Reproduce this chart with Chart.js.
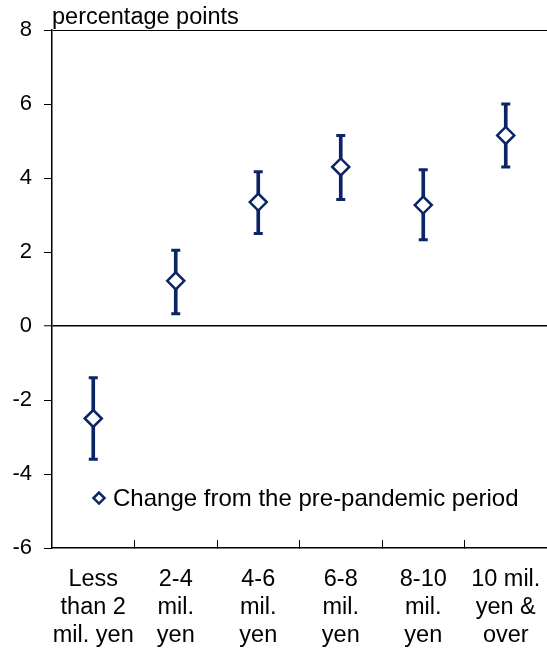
<!DOCTYPE html>
<html>
<head>
<meta charset="utf-8">
<script src="https://cdn.jsdelivr.net/npm/chart.js@4/dist/chart.umd.min.js"></script>
<style>
  html, body { margin: 0; padding: 0; background: #fff; }
  #wrap { width: 547px; height: 649px; }
</style>
</head>
<body>
<div id="wrap"><canvas id="c" width="547" height="649"></canvas></div>
<script>
// values
var categories = [
  ['Less', 'than 2', 'mil. yen'],
  ['2-4', 'mil.', 'yen'],
  ['4-6', 'mil.', 'yen'],
  ['6-8', 'mil.', 'yen'],
  ['8-10', 'mil.', 'yen'],
  ['10 mil.', 'yen &', 'over']
];
var change = [-2.5, 1.22, 3.35, 4.3, 3.27, 5.15];
var lower  = [-3.6, 0.33, 2.5, 3.42, 2.33, 4.3];
var upper  = [-1.4, 2.05, 4.17, 5.15, 4.22, 6.0];
var yTicks = [-6, -4, -2, 0, 2, 4, 6, 8];

var seriesName = 'Change from the pre-pandemic period';
var unitLabel = 'percentage points';
var navy = '#0b2466';
var font = 'Liberation Sans';

var ranges = lower.map(function (lo, i) { return [lo, upper[i]]; });

// title above the axis + legend inside the plot area
var extras = {
  id: 'extras',
  afterDraw: function (chart) {
    var ctx = chart.ctx, a = chart.chartArea;
    ctx.save();
    ctx.fillStyle = '#000';
    ctx.font = '23.5px "' + font + '"';
    ctx.textAlign = 'left';
    ctx.textBaseline = 'alphabetic';
    ctx.fillText(unitLabel, a.left, a.top - 6);

    // legend
    var lx = a.left + 47, ly = chart.scales.y.getPixelForValue(-4.65);
    ctx.beginPath();
    ctx.moveTo(lx, ly - 5.5);
    ctx.lineTo(lx + 5.5, ly);
    ctx.lineTo(lx, ly + 5.5);
    ctx.lineTo(lx - 5.5, ly);
    ctx.closePath();
    ctx.fillStyle = '#fff';
    ctx.fill();
    ctx.lineWidth = 2.5;
    ctx.strokeStyle = navy;
    ctx.stroke();
    ctx.fillStyle = '#000';
    ctx.font = '24px "' + font + '"';
    ctx.textBaseline = 'middle';
    ctx.fillText(seriesName, lx + 14, ly + 1);
    ctx.restore();
  }
};

new Chart(document.getElementById('c'), {
  data: {
    labels: categories,
    datasets: [
      {
        type: 'line',
        label: seriesName,
        data: change,
        showLine: false,
        pointStyle: 'rectRot',
        pointRadius: 8.5,
        pointHoverRadius: 8.5,
        pointBackgroundColor: '#fff',
        pointBorderColor: navy,
        pointBorderWidth: 2.5,
        order: 0
      },
      {
        type: 'line',
        label: 'low',
        data: lower,
        showLine: false,
        pointStyle: 'line',
        pointRadius: 4.5,
        pointBorderColor: navy,
        pointBorderWidth: 3,
        order: 1
      },
      {
        type: 'line',
        label: 'high',
        data: upper,
        showLine: false,
        pointStyle: 'line',
        pointRadius: 4.5,
        pointBorderColor: navy,
        pointBorderWidth: 3,
        order: 1
      },
      {
        type: 'bar',
        label: 'range',
        data: ranges,
        barThickness: 3,
        backgroundColor: navy,
        borderWidth: 0,
        order: 2
      }
    ]
  },
  options: {
    responsive: false,
    animation: false,
    layout: { autoPadding: false, padding: { top: 30, right: 0, left: 0, bottom: 0 } },
    plugins: {
      legend: { display: false },
      tooltip: { enabled: false }
    },
    scales: {
      x: {
        type: 'category',
        offset: true,
        afterFit: function (s) {
          s.height = 101;
          s.paddingLeft = 0;
          s.paddingRight = 0;
        },
        border: { display: true, color: '#000', width: 1.5 },
        grid: {
          offset: true,
          drawOnChartArea: false,
          tickLength: -8,
          lineWidth: 1,
          color: function (c) {
            return (c.index > 0 && c.index < categories.length) ? '#000' : 'rgba(0,0,0,0)';
          }
        },
        ticks: {
          color: '#000',
          padding: 25,
          maxRotation: 0,
          autoSkip: false,
          font: { family: font, size: 23.5, lineHeight: 1.2 }
        }
      },
      y: {
        type: 'linear',
        min: yTicks[0],
        max: yTicks[yTicks.length - 1],
        afterFit: function (s) { s.width = 52; },
        afterBuildTicks: function (s) {
          s.ticks = yTicks.map(function (v) { return { value: v }; });
        },
        border: { display: true, color: '#000', width: 1.5 },
        grid: {
          tickLength: 8,
          tickColor: '#000',
          tickWidth: 1,
          color: function (c) {
            var v = c.tick ? c.tick.value : null;
            return (v === 0 || v === 8) ? '#000' : 'rgba(0,0,0,0)';
          },
          lineWidth: function (c) {
            var v = c.tick ? c.tick.value : null;
            return v === 0 ? 1.5 : 1;
          }
        },
        ticks: {
          color: '#000',
          padding: 12,
          font: { family: font, size: 22 }
        }
      }
    }
  },
  plugins: [extras]
});
</script>
</body>
</html>
